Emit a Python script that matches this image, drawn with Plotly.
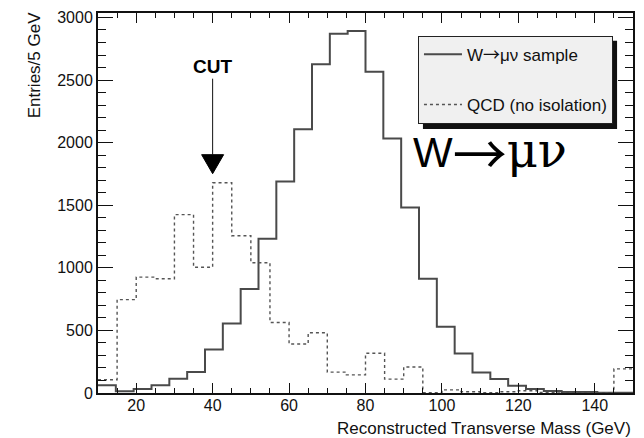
import numpy as np
import plotly.graph_objects as go

# Histogram ranges (GeV)
X_MIN, X_MAX = 10, 150
W_NBINS = 30          # W -> mu nu sample binning
QCD_NBINS = 28        # QCD sample binning (5 GeV)
CUT_VALUE = 40        # transverse-mass cut

# Entries per bin, W -> mu nu sample
w_counts = [61, 13, 32, 61, 113, 167, 348, 556, 830, 1233,
            1690, 2106, 2627, 2870, 2891, 2566, 2034, 1481, 913, 529,
            315, 164, 111, 58, 32, 16, 8, 8, 2, 1]

# Entries per bin, QCD sample without isolation
qcd_counts = [106, 746, 926, 913, 1425, 1005, 1680, 1256, 1040, 563,
              391, 481, 167, 145, 317, 111, 208, 3, 25, 10,
              3, 10, 18, 4, 0, 0, 0, 193]

x_ticks = [20, 40, 60, 80, 100, 120, 140]
y_ticks = [0, 500, 1000, 1500, 2000, 2500, 3000]

w_edges = np.linspace(X_MIN, X_MAX, W_NBINS + 1)
qcd_edges = np.linspace(X_MIN, X_MAX, QCD_NBINS + 1)

FONT = "Liberation Sans"
ARROW = "<span style='font-family:Noto Sans CJK SC'>→</span>"

fig = go.Figure()

fig.add_trace(go.Scatter(
    x=w_edges, y=w_counts + [w_counts[-1]],
    mode="lines", line_shape="hv",
    line=dict(color="#4a4a4a", width=2),
    name="W" + ARROW + "μν sample", legendgroup="w",
))
fig.add_trace(go.Scatter(
    x=qcd_edges, y=qcd_counts + [qcd_counts[-1]],
    mode="lines", line_shape="hv",
    line=dict(color="#555555", width=1.4, dash="3px,3px"),
    name="QCD (no isolation)", legendgroup="q",
))

y_max = 1.05 * max(w_counts)

fig.update_layout(
    width=644, height=438,
    margin=dict(l=98, r=9, t=10, b=45),
    paper_bgcolor="white", plot_bgcolor="white",
    font=dict(family=FONT, size=16, color="#111111"),
    showlegend=True,
    legend=dict(
        x=(419 - 97.6) / 537.4, y=(393.3 - 33) / 383.3, xanchor="left", yanchor="top",
        bgcolor="#f0f0f0", bordercolor="#222222", borderwidth=1,
        font=dict(family=FONT, size=17, color="#111111"),
        tracegroupgap=25, itemwidth=38,
    ),
    xaxis=dict(
        range=[X_MIN, X_MAX], tickvals=x_ticks,
        ticks="inside", ticklen=10, tickwidth=1, tickcolor="#111111",
        ticklabelstandoff=-3,
        showline=True, linecolor="#111111", linewidth=2, mirror="allticks",
        showgrid=False, zeroline=False,
        minor=dict(dtick=5, ticklen=5, ticks="inside", tickcolor="#111111", showgrid=False),
    ),
    yaxis=dict(
        range=[0, y_max], tickvals=y_ticks,
        ticks="inside", ticklen=15, tickwidth=1, tickcolor="#111111",
        showline=True, linecolor="#111111", linewidth=2, mirror="allticks",
        showgrid=False, zeroline=False,
        minor=dict(dtick=100, ticklen=8, ticks="inside", tickcolor="#111111", showgrid=False),
    ),
)

# Legend drop shadow
fig.add_shape(type="rect", xref="paper", yref="paper",
              x0=(424 - 97.6) / 537.4, x1=(619 - 97.6) / 537.4,
              y0=(393.3 - 127) / 383.3, y1=(393.3 - 38) / 383.3,
              fillcolor="#111111", line=dict(width=0), layer="above")

# Cut marker: arrow stem and filled head, sized in pixels from the cut position
fig.add_shape(type="line", xref="x", yref="y", xsizemode="pixel", ysizemode="pixel",
              xanchor=CUT_VALUE, yanchor=1752, x0=0, x1=0, y0=19, y1=95,
              line=dict(color="#111111", width=1))
fig.add_shape(type="path", xref="x", yref="y", xsizemode="pixel", ysizemode="pixel",
              xanchor=CUT_VALUE, yanchor=1752, path="M-11,19 L11,19 L0,0 Z",
              fillcolor="#000000", line=dict(color="#000000", width=1))
fig.add_annotation(x=CUT_VALUE, y=2610, xref="x", yref="y", text="<b>CUT</b>",
                   showarrow=False, font=dict(family=FONT, size=19, color="#000000"))

# Process label
fig.add_annotation(xref="paper", yref="paper", x=(412 - 97.6) / 537.4, y=0.635,
                   xanchor="left", yanchor="middle", showarrow=False,
                   text=("W<span style='font-family:Noto Sans CJK SC;font-size:54px;"
                         "baseline-shift:-8px'>→</span>"
                         "<span style='font-family:DejaVu Serif;font-size:48px'>μν</span>"),
                   font=dict(family=FONT, size=42, color="#000000"))

# Axis titles
fig.add_annotation(xref="paper", yref="paper", x=-0.118, y=0.862,
                   xanchor="center", yanchor="middle", textangle=-90, showarrow=False,
                   text="Entries/5 GeV", font=dict(family=FONT, size=17, color="#111111"))
fig.add_annotation(xref="paper", yref="paper", x=1.0, y=-0.093,
                   xanchor="right", yanchor="middle", showarrow=False,
                   text="Reconstructed Transverse Mass (GeV)",
                   font=dict(family=FONT, size=17, color="#111111"))

fig.write_html("out.html")
